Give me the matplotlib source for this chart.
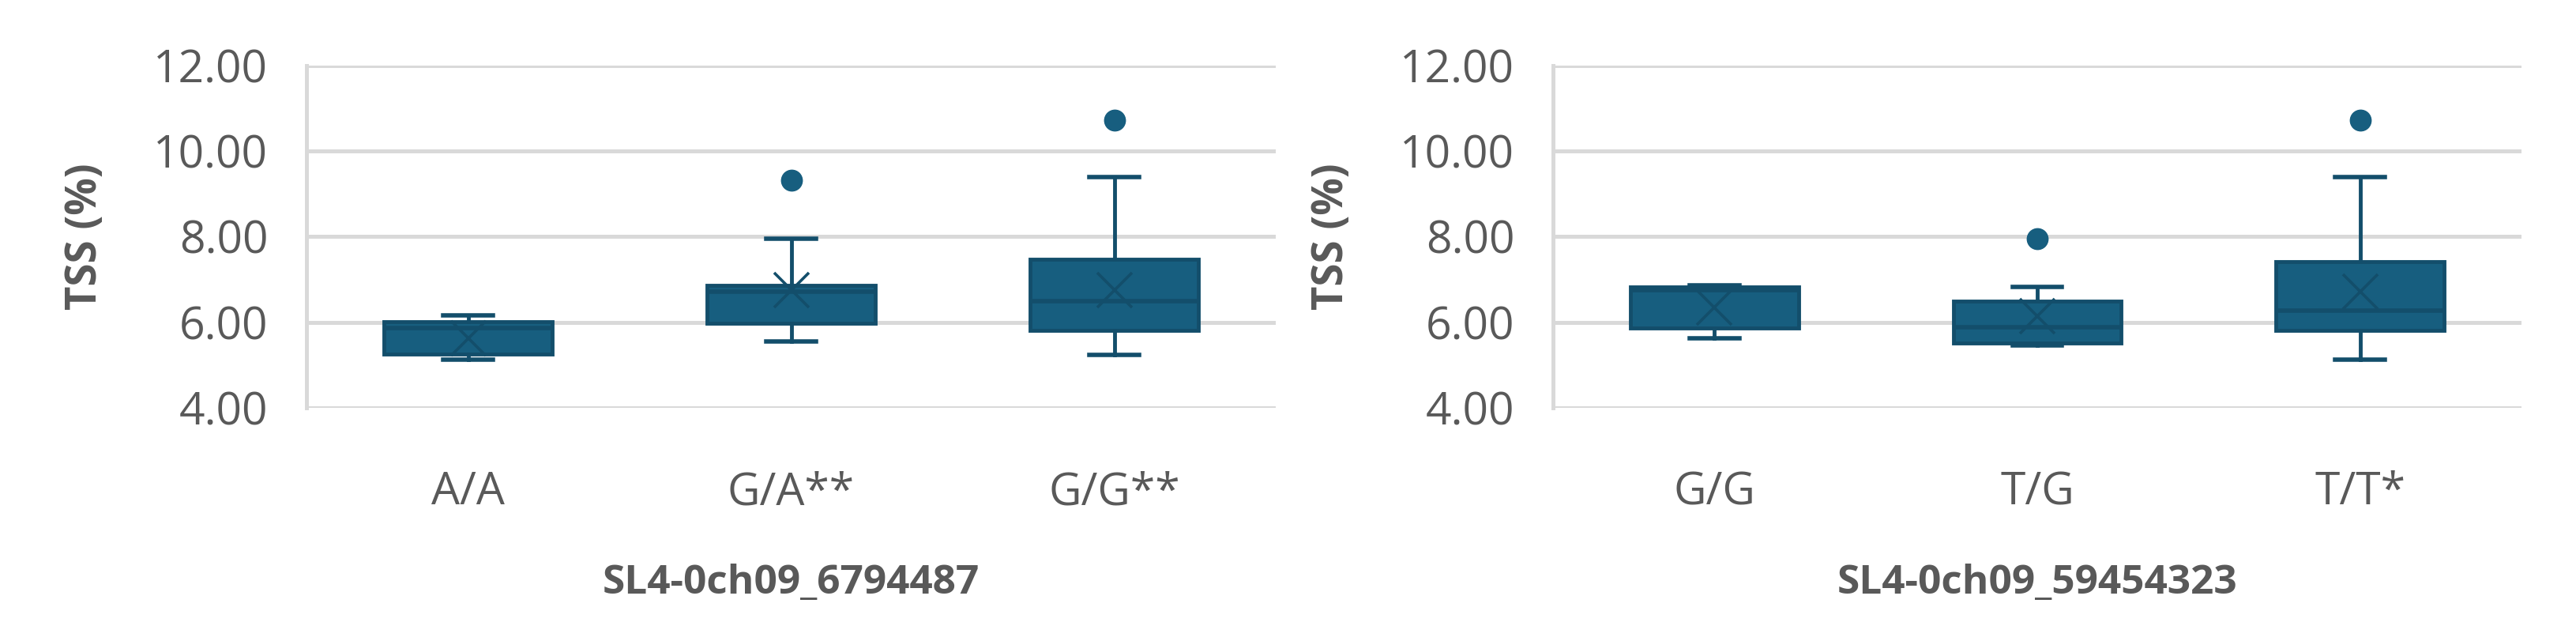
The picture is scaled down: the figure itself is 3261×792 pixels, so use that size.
import matplotlib
matplotlib.use("Agg")
import matplotlib.pyplot as plt
from matplotlib import font_manager

# ---------------- data ----------------
left_categories = ['A/A', 'G/A**', 'G/G**']
left_q1 = [5.25, 5.98, 5.81]
left_median = [5.86, 6.72, 6.49]
left_q3 = [6.02, 6.86, 7.47]
left_whislo = [5.12, 5.56, 5.23]
left_whishi = [6.16, 7.95, 9.40]
left_mean = [5.62, 6.76, 6.75]
left_outliers = [[], [9.31], [10.72]]
left_xlabel = 'SL4-0ch09_6794487'

right_categories = ['G/G', 'T/G', 'T/T*']
right_q1 = [5.86, 5.52, 5.81]
right_median = [6.75, 5.88, 6.28]
right_q3 = [6.83, 6.49, 7.41]
right_whislo = [5.63, 5.45, 5.12]
right_whishi = [6.86, 6.83, 9.40]
right_mean = [6.35, 6.14, 6.71]
right_outliers = [[], [7.95], [10.72]]
right_xlabel = 'SL4-0ch09_59454323'

y_ticks = [4, 6, 8, 10, 12]
y_label = 'TSS (%)'

# ---------------- style ----------------
available = {f.name for f in font_manager.fontManager.ttflist}
FONT = 'Open Sans' if 'Open Sans' in available else 'DejaVu Sans'
plt.rcParams['font.family'] = [FONT, 'DejaVu Sans']

FILL = '#175e7f'
EDGE = '#134e6b'
GRID = '#d9d9d9'
TEXT = '#595959'

W, H, DPI = 3262, 792, 100
fig = plt.figure(figsize=(W / DPI, H / DPI), dpi=DPI)


def make_stats(cats, q1, med, q3, lo, hi, mean, fl):
    return [dict(label=c, q1=a, med=b, q3=d, whislo=e, whishi=f, mean=g, fliers=h)
            for c, a, b, d, e, f, g, h in zip(cats, q1, med, q3, lo, hi, mean, fl)]


def draw(ax, stats, cats, xlabel):
    ax.bxp(stats, positions=range(len(stats)), widths=0.52, capwidths=0.154,
           patch_artist=True, showmeans=True, meanline=False,
           boxprops=dict(facecolor=FILL, edgecolor=EDGE, linewidth=3.5),
           medianprops=dict(color=EDGE, linewidth=4),
           whiskerprops=dict(color=EDGE, linewidth=3.5),
           capprops=dict(color=EDGE, linewidth=4),
           flierprops=dict(marker='o', markerfacecolor=FILL, markeredgecolor=FILL,
                           markersize=19, linestyle='none'),
           meanprops=dict(marker='x', markeredgecolor=EDGE, markersize=32,
                          markeredgewidth=2.6))
    ax.set_xlim(-0.5, len(stats) - 0.5)
    ax.set_ylim(4, 12)
    ax.set_yticks(y_ticks)
    ax.set_yticklabels([f'{v:.2f}' for v in y_ticks])
    ax.set_xticks(range(len(cats)))
    ax.set_xticklabels(cats)
    ax.set_axisbelow(True)
    ax.grid(axis='y', color=GRID, linewidth=3.6)
    ax.grid(axis='x', visible=False)
    for s in ['top', 'right', 'bottom']:
        ax.spines[s].set_visible(False)
    ax.spines['left'].set_color(GRID)
    ax.spines['left'].set_linewidth(3.6)
    ax.tick_params(axis='both', length=0, labelsize=41, labelcolor=TEXT)
    ax.tick_params(axis='y', pad=35)
    ax.tick_params(axis='x', pad=57)
    ax.set_ylabel(y_label, fontsize=38, fontweight='bold', color=TEXT)
    ax.yaxis.label.set_verticalalignment('center')
    ax.yaxis.set_label_coords(-0.228, 0.5)
    ax.set_xlabel(xlabel, fontsize=37, fontweight='bold', color=TEXT)
    ax.xaxis.label.set_verticalalignment('center')
    ax.xaxis.set_label_coords(0.5, -0.512)


bottom = 1 - 516 / H
height = (516 - 82.7) / H
ax1 = fig.add_axes([388 / W, bottom, 1227 / W, height])
ax2 = fig.add_axes([1966 / W, bottom, 1226 / W, height])

draw(ax1, make_stats(left_categories, left_q1, left_median, left_q3, left_whislo,
                     left_whishi, left_mean, left_outliers), left_categories, left_xlabel)
draw(ax2, make_stats(right_categories, right_q1, right_median, right_q3, right_whislo,
                     right_whishi, right_mean, right_outliers), right_categories, right_xlabel)

fig.savefig('out.png', dpi=DPI, facecolor='white')
